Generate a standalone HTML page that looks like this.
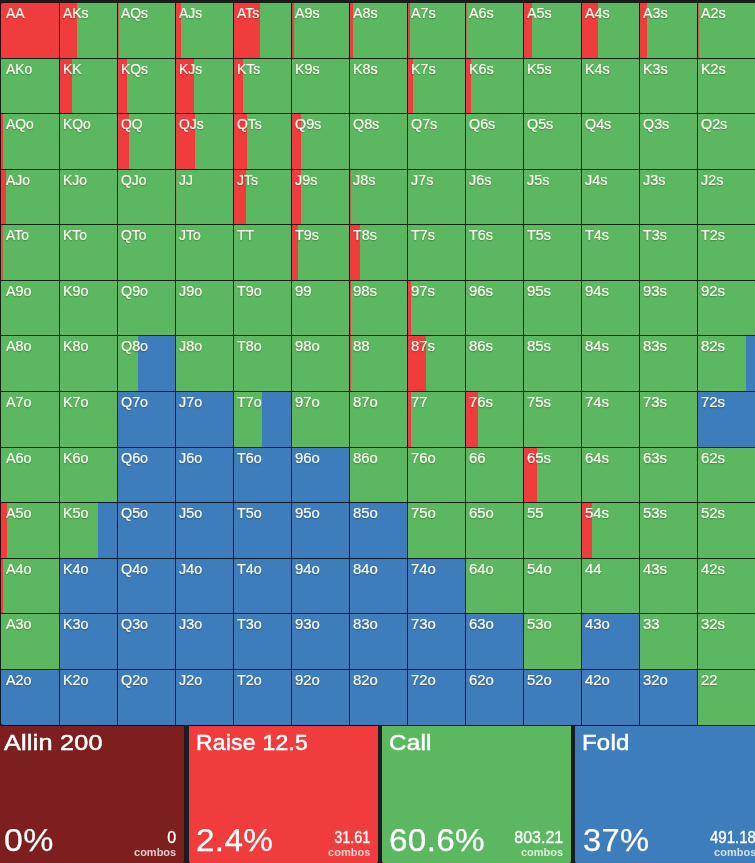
<!DOCTYPE html>
<html><head><meta charset="utf-8"><title>Range</title>
<style>
html,body{margin:0;padding:0;background:#1b1c20;}
body{width:755px;height:863px;overflow:hidden;position:relative;font-family:"Liberation Sans",sans-serif;color:#fff;}
#g{position:absolute;left:0;top:0;width:755px;height:727px;overflow:hidden;}
#gb{position:absolute;left:1.0px;top:1.97px;width:755.0px;height:723.54px;background:#0d0f0d;border-radius:3px;}
.c{position:absolute;width:58.0px;height:56.18px;box-sizing:border-box;border-left:1px solid rgba(0,0,0,.8);border-top:1px solid rgba(0,0,0,.8);background-origin:border-box;background-repeat:no-repeat;}
.c span{position:absolute;left:3.3px;-webkit-text-stroke:.2px #fdfbf0;top:3.0px;font-size:14.2px;line-height:15px;transform-origin:0 0;color:#fdfbf0;text-shadow:0 1px 1.5px rgba(0,0,0,.3);white-space:nowrap;}
.tl{border-top-left-radius:3px}
.bl{border-bottom-left-radius:3px}
.p{position:absolute;top:726px;height:138px;border-radius:0 0 4px 4px;box-sizing:border-box;}
.t{position:absolute;left:6.7px;top:4px;font-size:22px;line-height:26px;letter-spacing:.2px;white-space:nowrap;-webkit-text-stroke:.5px #fff;transform-origin:0 0;}
.pc{position:absolute;left:6.7px;bottom:5.6px;font-size:32px;line-height:36px;letter-spacing:.3px;white-space:nowrap;transform-origin:0 0;-webkit-text-stroke:.25px #fff;}
.cb{position:absolute;right:8px;bottom:5px;text-align:right;white-space:nowrap;}
.n{font-size:16px;line-height:16px;transform-origin:100% 0;-webkit-text-stroke:.35px #fff;margin-bottom:0px}
.l{font-size:11px;line-height:13px;font-weight:bold;color:rgba(255,255,255,.76);}
</style></head><body>
<div id="g"><div id="gb"></div>
<div class="c tl" style="left:0.00px;top:1.97px;width:59px;background-color:#f03c3c"><span style="transform:scaleX(0.98);left:5px">AA</span></div>
<div class="c" style="left:59.00px;top:1.97px;background-image:linear-gradient(90deg,#f03c3c 0 18.50px,#5cb860 18.50px 58.00px)"><span style="transform:scaleX(0.98)">AKs</span></div>
<div class="c" style="left:117.00px;top:1.97px;background-image:linear-gradient(90deg,#c16347 0 2.00px,#5cb860 2.00px 58.00px)"><span style="transform:scaleX(0.98)">AQs</span></div>
<div class="c" style="left:175.00px;top:1.97px;background-image:linear-gradient(90deg,#f03c3c 0 5.90px,#5cb860 5.90px 58.00px)"><span style="transform:scaleX(0.98)">AJs</span></div>
<div class="c" style="left:233.00px;top:1.97px;background-image:linear-gradient(90deg,#f03c3c 0 26.65px,#5cb860 26.65px 58.00px)"><span style="transform:scaleX(0.98)">ATs</span></div>
<div class="c" style="left:291.00px;top:1.97px;background-image:linear-gradient(90deg,#f03c3c 0 3.11px,#5cb860 3.11px 58.00px)"><span style="transform:scaleX(1.01)">A9s</span></div>
<div class="c" style="left:349.00px;top:1.97px;background-image:linear-gradient(90deg,#f03c3c 0 3.85px,#5cb860 3.85px 58.00px)"><span style="transform:scaleX(1.01)">A8s</span></div>
<div class="c" style="left:407.00px;top:1.97px;background-image:linear-gradient(90deg,#f03c3c 0 2.71px,#5cb860 2.71px 58.00px)"><span style="transform:scaleX(1.01)">A7s</span></div>
<div class="c" style="left:465.00px;top:1.97px;background-image:linear-gradient(90deg,#b0714b 0 2.00px,#5cb860 2.00px 58.00px)"><span style="transform:scaleX(1.01)">A6s</span></div>
<div class="c" style="left:523.00px;top:1.97px;background-image:linear-gradient(90deg,#f03c3c 0 8.81px,#5cb860 8.81px 58.00px)"><span style="transform:scaleX(1.01)">A5s</span></div>
<div class="c" style="left:581.00px;top:1.97px;background-image:linear-gradient(90deg,#f03c3c 0 16.68px,#5cb860 16.68px 58.00px)"><span style="transform:scaleX(1.01)">A4s</span></div>
<div class="c" style="left:639.00px;top:1.97px;background-image:linear-gradient(90deg,#f03c3c 0 8.41px,#5cb860 8.41px 58.00px)"><span style="transform:scaleX(1.01)">A3s</span></div>
<div class="c" style="left:697.00px;top:1.97px;background-image:linear-gradient(90deg,#c16347 0 2.00px,#5cb860 2.00px 58.00px)"><span style="transform:scaleX(1.01)">A2s</span></div>
<div class="c" style="left:0.00px;top:57.55px;width:59px;background-color:#5cb860"><span style="transform:scaleX(0.98);left:5px">AKo</span></div>
<div class="c" style="left:59.00px;top:57.55px;background-image:linear-gradient(90deg,#f03c3c 0 12.97px,#5cb860 12.97px 58.00px)"><span style="transform:scaleX(0.98)">KK</span></div>
<div class="c" style="left:117.00px;top:57.55px;background-image:linear-gradient(90deg,#f03c3c 0 9.55px,#5cb860 9.55px 58.00px)"><span style="transform:scaleX(0.98)">KQs</span></div>
<div class="c" style="left:175.00px;top:57.55px;background-image:linear-gradient(90deg,#f03c3c 0 18.67px,#5cb860 18.67px 58.00px)"><span style="transform:scaleX(0.98)">KJs</span></div>
<div class="c" style="left:233.00px;top:57.55px;background-image:linear-gradient(90deg,#f03c3c 0 10.12px,#5cb860 10.12px 58.00px)"><span style="transform:scaleX(0.98)">KTs</span></div>
<div class="c" style="left:291.00px;top:57.55px;background-color:#5cb860"><span style="transform:scaleX(1.01)">K9s</span></div>
<div class="c" style="left:349.00px;top:57.55px;background-color:#5cb860"><span style="transform:scaleX(1.01)">K8s</span></div>
<div class="c" style="left:407.00px;top:57.55px;background-image:linear-gradient(90deg,#f03c3c 0 5.56px,#5cb860 5.56px 58.00px)"><span style="transform:scaleX(1.01)">K7s</span></div>
<div class="c" style="left:465.00px;top:57.55px;background-image:linear-gradient(90deg,#f03c3c 0 6.30px,#5cb860 6.30px 58.00px)"><span style="transform:scaleX(1.01)">K6s</span></div>
<div class="c" style="left:523.00px;top:57.55px;background-color:#5cb860"><span style="transform:scaleX(1.01)">K5s</span></div>
<div class="c" style="left:581.00px;top:57.55px;background-color:#5cb860"><span style="transform:scaleX(1.01)">K4s</span></div>
<div class="c" style="left:639.00px;top:57.55px;background-color:#5cb860"><span style="transform:scaleX(1.01)">K3s</span></div>
<div class="c" style="left:697.00px;top:57.55px;background-color:#5cb860"><span style="transform:scaleX(1.01)">K2s</span></div>
<div class="c" style="left:0.00px;top:113.13px;width:59px;background-image:linear-gradient(90deg,#f03c3c 0 3.42px,#5cb860 3.42px 59.00px)"><span style="transform:scaleX(0.98);left:5px">AQo</span></div>
<div class="c" style="left:59.00px;top:113.13px;background-color:#5cb860"><span style="transform:scaleX(0.98)">KQo</span></div>
<div class="c" style="left:117.00px;top:113.13px;background-image:linear-gradient(90deg,#f03c3c 0 11.83px,#5cb860 11.83px 58.00px)"><span style="transform:scaleX(0.98)">QQ</span></div>
<div class="c" style="left:175.00px;top:113.13px;background-image:linear-gradient(90deg,#f03c3c 0 19.81px,#5cb860 19.81px 58.00px)"><span style="transform:scaleX(0.98)">QJs</span></div>
<div class="c" style="left:233.00px;top:113.13px;background-image:linear-gradient(90deg,#f03c3c 0 14.11px,#5cb860 14.11px 58.00px)"><span style="transform:scaleX(0.98)">QTs</span></div>
<div class="c" style="left:291.00px;top:113.13px;background-image:linear-gradient(90deg,#f03c3c 0 10.41px,#5cb860 10.41px 58.00px)"><span style="transform:scaleX(1.01)">Q9s</span></div>
<div class="c" style="left:349.00px;top:113.13px;background-color:#5cb860"><span style="transform:scaleX(1.01)">Q8s</span></div>
<div class="c" style="left:407.00px;top:113.13px;background-color:#5cb860"><span style="transform:scaleX(1.01)">Q7s</span></div>
<div class="c" style="left:465.00px;top:113.13px;background-color:#5cb860"><span style="transform:scaleX(1.01)">Q6s</span></div>
<div class="c" style="left:523.00px;top:113.13px;background-color:#5cb860"><span style="transform:scaleX(1.01)">Q5s</span></div>
<div class="c" style="left:581.00px;top:113.13px;background-color:#5cb860"><span style="transform:scaleX(1.01)">Q4s</span></div>
<div class="c" style="left:639.00px;top:113.13px;background-color:#5cb860"><span style="transform:scaleX(1.01)">Q3s</span></div>
<div class="c" style="left:697.00px;top:113.13px;background-color:#5cb860"><span style="transform:scaleX(1.01)">Q2s</span></div>
<div class="c" style="left:0.00px;top:168.71px;width:59px;background-image:linear-gradient(90deg,#f03c3c 0 5.99px,#5cb860 5.99px 59.00px)"><span style="transform:scaleX(0.98);left:5px">AJo</span></div>
<div class="c" style="left:59.00px;top:168.71px;background-color:#5cb860"><span style="transform:scaleX(0.98)">KJo</span></div>
<div class="c" style="left:117.00px;top:168.71px;background-color:#5cb860"><span style="transform:scaleX(0.98)">QJo</span></div>
<div class="c" style="left:175.00px;top:168.71px;background-image:linear-gradient(90deg,#7e9c58 0 2.00px,#5cb860 2.00px 58.00px)"><span style="transform:scaleX(0.98)">JJ</span></div>
<div class="c" style="left:233.00px;top:168.71px;background-image:linear-gradient(90deg,#f03c3c 0 12.97px,#5cb860 12.97px 58.00px)"><span style="transform:scaleX(0.98)">JTs</span></div>
<div class="c" style="left:291.00px;top:168.71px;background-image:linear-gradient(90deg,#f03c3c 0 9.83px,#5cb860 9.83px 58.00px)"><span style="transform:scaleX(1.01)">J9s</span></div>
<div class="c" style="left:349.00px;top:168.71px;background-image:linear-gradient(90deg,#c16347 0 2.00px,#5cb860 2.00px 58.00px)"><span style="transform:scaleX(1.01)">J8s</span></div>
<div class="c" style="left:407.00px;top:168.71px;background-color:#5cb860"><span style="transform:scaleX(1.01)">J7s</span></div>
<div class="c" style="left:465.00px;top:168.71px;background-color:#5cb860"><span style="transform:scaleX(1.01)">J6s</span></div>
<div class="c" style="left:523.00px;top:168.71px;background-color:#5cb860"><span style="transform:scaleX(1.01)">J5s</span></div>
<div class="c" style="left:581.00px;top:168.71px;background-color:#5cb860"><span style="transform:scaleX(1.01)">J4s</span></div>
<div class="c" style="left:639.00px;top:168.71px;background-color:#5cb860"><span style="transform:scaleX(1.01)">J3s</span></div>
<div class="c" style="left:697.00px;top:168.71px;background-color:#5cb860"><span style="transform:scaleX(1.01)">J2s</span></div>
<div class="c" style="left:0.00px;top:224.29px;width:59px;background-image:linear-gradient(90deg,#c16347 0 3.00px,#5cb860 3.00px 59.00px)"><span style="transform:scaleX(0.98);left:5px">ATo</span></div>
<div class="c" style="left:59.00px;top:224.29px;background-color:#5cb860"><span style="transform:scaleX(0.98)">KTo</span></div>
<div class="c" style="left:117.00px;top:224.29px;background-color:#5cb860"><span style="transform:scaleX(0.98)">QTo</span></div>
<div class="c" style="left:175.00px;top:224.29px;background-color:#5cb860"><span style="transform:scaleX(0.98)">JTo</span></div>
<div class="c" style="left:233.00px;top:224.29px;background-color:#5cb860"><span style="transform:scaleX(0.98)">TT</span></div>
<div class="c" style="left:291.00px;top:224.29px;background-image:linear-gradient(90deg,#f03c3c 0 6.70px,#5cb860 6.70px 58.00px)"><span style="transform:scaleX(1.01)">T9s</span></div>
<div class="c" style="left:349.00px;top:224.29px;background-image:linear-gradient(90deg,#f03c3c 0 10.52px,#5cb860 10.52px 58.00px)"><span style="transform:scaleX(1.01)">T8s</span></div>
<div class="c" style="left:407.00px;top:224.29px;background-color:#5cb860"><span style="transform:scaleX(1.01)">T7s</span></div>
<div class="c" style="left:465.00px;top:224.29px;background-color:#5cb860"><span style="transform:scaleX(1.01)">T6s</span></div>
<div class="c" style="left:523.00px;top:224.29px;background-color:#5cb860"><span style="transform:scaleX(1.01)">T5s</span></div>
<div class="c" style="left:581.00px;top:224.29px;background-color:#5cb860"><span style="transform:scaleX(1.01)">T4s</span></div>
<div class="c" style="left:639.00px;top:224.29px;background-color:#5cb860"><span style="transform:scaleX(1.01)">T3s</span></div>
<div class="c" style="left:697.00px;top:224.29px;background-color:#5cb860"><span style="transform:scaleX(1.01)">T2s</span></div>
<div class="c" style="left:0.00px;top:279.87px;width:59px;background-color:#5cb860"><span style="transform:scaleX(1.01);left:5px">A9o</span></div>
<div class="c" style="left:59.00px;top:279.87px;background-color:#5cb860"><span style="transform:scaleX(1.01)">K9o</span></div>
<div class="c" style="left:117.00px;top:279.87px;background-color:#5cb860"><span style="transform:scaleX(1.01)">Q9o</span></div>
<div class="c" style="left:175.00px;top:279.87px;background-color:#5cb860"><span style="transform:scaleX(1.01)">J9o</span></div>
<div class="c" style="left:233.00px;top:279.87px;background-color:#5cb860"><span style="transform:scaleX(1.01)">T9o</span></div>
<div class="c" style="left:291.00px;top:279.87px;background-color:#5cb860"><span style="transform:scaleX(1.05)">99</span></div>
<div class="c" style="left:349.00px;top:279.87px;background-image:linear-gradient(90deg,#f03c3c 0 2.48px,#5cb860 2.48px 58.00px)"><span style="transform:scaleX(1.05)">98s</span></div>
<div class="c" style="left:407.00px;top:279.87px;background-image:linear-gradient(90deg,#f03c3c 0 4.19px,#5cb860 4.19px 58.00px)"><span style="transform:scaleX(1.05)">97s</span></div>
<div class="c" style="left:465.00px;top:279.87px;background-color:#5cb860"><span style="transform:scaleX(1.05)">96s</span></div>
<div class="c" style="left:523.00px;top:279.87px;background-color:#5cb860"><span style="transform:scaleX(1.05)">95s</span></div>
<div class="c" style="left:581.00px;top:279.87px;background-color:#5cb860"><span style="transform:scaleX(1.05)">94s</span></div>
<div class="c" style="left:639.00px;top:279.87px;background-color:#5cb860"><span style="transform:scaleX(1.05)">93s</span></div>
<div class="c" style="left:697.00px;top:279.87px;background-color:#5cb860"><span style="transform:scaleX(1.05)">92s</span></div>
<div class="c" style="left:0.00px;top:335.45px;width:59px;background-color:#5cb860"><span style="transform:scaleX(1.01);left:5px">A8o</span></div>
<div class="c" style="left:59.00px;top:335.45px;background-color:#5cb860"><span style="transform:scaleX(1.01)">K8o</span></div>
<div class="c" style="left:117.00px;top:335.45px;background-image:linear-gradient(90deg,#5cb860 1.00px 20.84px,#3d7dbc 20.84px 100%)"><span style="transform:scaleX(1.01)">Q8o</span></div>
<div class="c" style="left:175.00px;top:335.45px;background-color:#5cb860"><span style="transform:scaleX(1.01)">J8o</span></div>
<div class="c" style="left:233.00px;top:335.45px;background-color:#5cb860"><span style="transform:scaleX(1.01)">T8o</span></div>
<div class="c" style="left:291.00px;top:335.45px;background-color:#5cb860"><span style="transform:scaleX(1.05)">98o</span></div>
<div class="c" style="left:349.00px;top:335.45px;background-image:linear-gradient(90deg,#db4e41 0 2.00px,#5cb860 2.00px 58.00px)"><span style="transform:scaleX(1.05)">88</span></div>
<div class="c" style="left:407.00px;top:335.45px;background-image:linear-gradient(90deg,#f03c3c 0 18.90px,#5cb860 18.90px 58.00px)"><span style="transform:scaleX(1.05)">87s</span></div>
<div class="c" style="left:465.00px;top:335.45px;background-color:#5cb860"><span style="transform:scaleX(1.05)">86s</span></div>
<div class="c" style="left:523.00px;top:335.45px;background-color:#5cb860"><span style="transform:scaleX(1.05)">85s</span></div>
<div class="c" style="left:581.00px;top:335.45px;background-color:#5cb860"><span style="transform:scaleX(1.05)">84s</span></div>
<div class="c" style="left:639.00px;top:335.45px;background-color:#5cb860"><span style="transform:scaleX(1.05)">83s</span></div>
<div class="c" style="left:697.00px;top:335.45px;background-image:linear-gradient(90deg,#5cb860 1.00px 49.16px,#3d7dbc 49.16px 100%)"><span style="transform:scaleX(1.05)">82s</span></div>
<div class="c" style="left:0.00px;top:391.03px;width:59px;background-color:#5cb860"><span style="transform:scaleX(1.01);left:5px">A7o</span></div>
<div class="c" style="left:59.00px;top:391.03px;background-color:#5cb860"><span style="transform:scaleX(1.01)">K7o</span></div>
<div class="c" style="left:117.00px;top:391.03px;background-color:#3d7dbc"><span style="transform:scaleX(1.01)">Q7o</span></div>
<div class="c" style="left:175.00px;top:391.03px;background-color:#3d7dbc"><span style="transform:scaleX(1.01)">J7o</span></div>
<div class="c" style="left:233.00px;top:391.03px;background-image:linear-gradient(90deg,#5cb860 1.00px 28.93px,#3d7dbc 28.93px 100%)"><span style="transform:scaleX(1.01)">T7o</span></div>
<div class="c" style="left:291.00px;top:391.03px;background-color:#5cb860"><span style="transform:scaleX(1.05)">97o</span></div>
<div class="c" style="left:349.00px;top:391.03px;background-color:#5cb860"><span style="transform:scaleX(1.05)">87o</span></div>
<div class="c" style="left:407.00px;top:391.03px;background-image:linear-gradient(90deg,#f03c3c 0 3.56px,#5cb860 3.56px 58.00px)"><span style="transform:scaleX(1.05)">77</span></div>
<div class="c" style="left:465.00px;top:391.03px;background-image:linear-gradient(90deg,#f03c3c 0 13.31px,#5cb860 13.31px 58.00px)"><span style="transform:scaleX(1.05)">76s</span></div>
<div class="c" style="left:523.00px;top:391.03px;background-color:#5cb860"><span style="transform:scaleX(1.05)">75s</span></div>
<div class="c" style="left:581.00px;top:391.03px;background-color:#5cb860"><span style="transform:scaleX(1.05)">74s</span></div>
<div class="c" style="left:639.00px;top:391.03px;background-color:#5cb860"><span style="transform:scaleX(1.05)">73s</span></div>
<div class="c" style="left:697.00px;top:391.03px;background-color:#3d7dbc"><span style="transform:scaleX(1.05)">72s</span></div>
<div class="c" style="left:0.00px;top:446.61px;width:59px;background-color:#5cb860"><span style="transform:scaleX(1.01);left:5px">A6o</span></div>
<div class="c" style="left:59.00px;top:446.61px;background-color:#5cb860"><span style="transform:scaleX(1.01)">K6o</span></div>
<div class="c" style="left:117.00px;top:446.61px;background-color:#3d7dbc"><span style="transform:scaleX(1.01)">Q6o</span></div>
<div class="c" style="left:175.00px;top:446.61px;background-color:#3d7dbc"><span style="transform:scaleX(1.01)">J6o</span></div>
<div class="c" style="left:233.00px;top:446.61px;background-color:#3d7dbc"><span style="transform:scaleX(1.01)">T6o</span></div>
<div class="c" style="left:291.00px;top:446.61px;background-color:#3d7dbc"><span style="transform:scaleX(1.05)">96o</span></div>
<div class="c" style="left:349.00px;top:446.61px;background-color:#5cb860"><span style="transform:scaleX(1.05)">86o</span></div>
<div class="c" style="left:407.00px;top:446.61px;background-color:#5cb860"><span style="transform:scaleX(1.05)">76o</span></div>
<div class="c" style="left:465.00px;top:446.61px;background-color:#5cb860"><span style="transform:scaleX(1.05)">66</span></div>
<div class="c" style="left:523.00px;top:446.61px;background-image:linear-gradient(90deg,#f03c3c 0 14.22px,#5cb860 14.22px 58.00px)"><span style="transform:scaleX(1.05)">65s</span></div>
<div class="c" style="left:581.00px;top:446.61px;background-color:#5cb860"><span style="transform:scaleX(1.05)">64s</span></div>
<div class="c" style="left:639.00px;top:446.61px;background-color:#5cb860"><span style="transform:scaleX(1.05)">63s</span></div>
<div class="c" style="left:697.00px;top:446.61px;background-color:#5cb860"><span style="transform:scaleX(1.05)">62s</span></div>
<div class="c" style="left:0.00px;top:502.19px;width:59px;background-image:linear-gradient(90deg,#f03c3c 0 7.02px,#5cb860 7.02px 59.00px)"><span style="transform:scaleX(1.01);left:5px">A5o</span></div>
<div class="c" style="left:59.00px;top:502.19px;background-image:linear-gradient(90deg,#5cb860 1.00px 39.48px,#3d7dbc 39.48px 100%)"><span style="transform:scaleX(1.01)">K5o</span></div>
<div class="c" style="left:117.00px;top:502.19px;background-color:#3d7dbc"><span style="transform:scaleX(1.01)">Q5o</span></div>
<div class="c" style="left:175.00px;top:502.19px;background-color:#3d7dbc"><span style="transform:scaleX(1.01)">J5o</span></div>
<div class="c" style="left:233.00px;top:502.19px;background-color:#3d7dbc"><span style="transform:scaleX(1.01)">T5o</span></div>
<div class="c" style="left:291.00px;top:502.19px;background-color:#3d7dbc"><span style="transform:scaleX(1.05)">95o</span></div>
<div class="c" style="left:349.00px;top:502.19px;background-color:#3d7dbc"><span style="transform:scaleX(1.05)">85o</span></div>
<div class="c" style="left:407.00px;top:502.19px;background-color:#5cb860"><span style="transform:scaleX(1.05)">75o</span></div>
<div class="c" style="left:465.00px;top:502.19px;background-color:#5cb860"><span style="transform:scaleX(1.05)">65o</span></div>
<div class="c" style="left:523.00px;top:502.19px;background-color:#5cb860"><span style="transform:scaleX(1.05)">55</span></div>
<div class="c" style="left:581.00px;top:502.19px;background-image:linear-gradient(90deg,#f03c3c 0 10.58px,#5cb860 10.58px 58.00px)"><span style="transform:scaleX(1.05)">54s</span></div>
<div class="c" style="left:639.00px;top:502.19px;background-color:#5cb860"><span style="transform:scaleX(1.05)">53s</span></div>
<div class="c" style="left:697.00px;top:502.19px;background-color:#5cb860"><span style="transform:scaleX(1.05)">52s</span></div>
<div class="c" style="left:0.00px;top:557.77px;width:59px;background-image:linear-gradient(90deg,#f03c3c 0 3.14px,#5cb860 3.14px 59.00px)"><span style="transform:scaleX(1.01);left:5px">A4o</span></div>
<div class="c" style="left:59.00px;top:557.77px;background-color:#3d7dbc"><span style="transform:scaleX(1.01)">K4o</span></div>
<div class="c" style="left:117.00px;top:557.77px;background-color:#3d7dbc"><span style="transform:scaleX(1.01)">Q4o</span></div>
<div class="c" style="left:175.00px;top:557.77px;background-color:#3d7dbc"><span style="transform:scaleX(1.01)">J4o</span></div>
<div class="c" style="left:233.00px;top:557.77px;background-color:#3d7dbc"><span style="transform:scaleX(1.01)">T4o</span></div>
<div class="c" style="left:291.00px;top:557.77px;background-color:#3d7dbc"><span style="transform:scaleX(1.05)">94o</span></div>
<div class="c" style="left:349.00px;top:557.77px;background-color:#3d7dbc"><span style="transform:scaleX(1.05)">84o</span></div>
<div class="c" style="left:407.00px;top:557.77px;background-color:#3d7dbc"><span style="transform:scaleX(1.05)">74o</span></div>
<div class="c" style="left:465.00px;top:557.77px;background-color:#5cb860"><span style="transform:scaleX(1.05)">64o</span></div>
<div class="c" style="left:523.00px;top:557.77px;background-color:#5cb860"><span style="transform:scaleX(1.05)">54o</span></div>
<div class="c" style="left:581.00px;top:557.77px;background-color:#5cb860"><span style="transform:scaleX(1.05)">44</span></div>
<div class="c" style="left:639.00px;top:557.77px;background-color:#5cb860"><span style="transform:scaleX(1.05)">43s</span></div>
<div class="c" style="left:697.00px;top:557.77px;background-color:#5cb860"><span style="transform:scaleX(1.05)">42s</span></div>
<div class="c" style="left:0.00px;top:613.35px;width:59px;background-color:#5cb860"><span style="transform:scaleX(1.01);left:5px">A3o</span></div>
<div class="c" style="left:59.00px;top:613.35px;background-color:#3d7dbc"><span style="transform:scaleX(1.01)">K3o</span></div>
<div class="c" style="left:117.00px;top:613.35px;background-color:#3d7dbc"><span style="transform:scaleX(1.01)">Q3o</span></div>
<div class="c" style="left:175.00px;top:613.35px;background-color:#3d7dbc"><span style="transform:scaleX(1.01)">J3o</span></div>
<div class="c" style="left:233.00px;top:613.35px;background-color:#3d7dbc"><span style="transform:scaleX(1.01)">T3o</span></div>
<div class="c" style="left:291.00px;top:613.35px;background-color:#3d7dbc"><span style="transform:scaleX(1.05)">93o</span></div>
<div class="c" style="left:349.00px;top:613.35px;background-color:#3d7dbc"><span style="transform:scaleX(1.05)">83o</span></div>
<div class="c" style="left:407.00px;top:613.35px;background-color:#3d7dbc"><span style="transform:scaleX(1.05)">73o</span></div>
<div class="c" style="left:465.00px;top:613.35px;background-color:#3d7dbc"><span style="transform:scaleX(1.05)">63o</span></div>
<div class="c" style="left:523.00px;top:613.35px;background-color:#5cb860"><span style="transform:scaleX(1.05)">53o</span></div>
<div class="c" style="left:581.00px;top:613.35px;background-color:#3d7dbc"><span style="transform:scaleX(1.05)">43o</span></div>
<div class="c" style="left:639.00px;top:613.35px;background-color:#5cb860"><span style="transform:scaleX(1.05)">33</span></div>
<div class="c" style="left:697.00px;top:613.35px;background-color:#5cb860"><span style="transform:scaleX(1.05)">32s</span></div>
<div class="c bl" style="left:0.00px;top:668.93px;width:59px;background-color:#3d7dbc"><span style="transform:scaleX(1.01);left:5px">A2o</span></div>
<div class="c" style="left:59.00px;top:668.93px;background-color:#3d7dbc"><span style="transform:scaleX(1.01)">K2o</span></div>
<div class="c" style="left:117.00px;top:668.93px;background-color:#3d7dbc"><span style="transform:scaleX(1.01)">Q2o</span></div>
<div class="c" style="left:175.00px;top:668.93px;background-color:#3d7dbc"><span style="transform:scaleX(1.01)">J2o</span></div>
<div class="c" style="left:233.00px;top:668.93px;background-color:#3d7dbc"><span style="transform:scaleX(1.01)">T2o</span></div>
<div class="c" style="left:291.00px;top:668.93px;background-color:#3d7dbc"><span style="transform:scaleX(1.05)">92o</span></div>
<div class="c" style="left:349.00px;top:668.93px;background-color:#3d7dbc"><span style="transform:scaleX(1.05)">82o</span></div>
<div class="c" style="left:407.00px;top:668.93px;background-color:#3d7dbc"><span style="transform:scaleX(1.05)">72o</span></div>
<div class="c" style="left:465.00px;top:668.93px;background-color:#3d7dbc"><span style="transform:scaleX(1.05)">62o</span></div>
<div class="c" style="left:523.00px;top:668.93px;background-color:#3d7dbc"><span style="transform:scaleX(1.05)">52o</span></div>
<div class="c" style="left:581.00px;top:668.93px;background-color:#3d7dbc"><span style="transform:scaleX(1.05)">42o</span></div>
<div class="c" style="left:639.00px;top:668.93px;background-color:#3d7dbc"><span style="transform:scaleX(1.05)">32o</span></div>
<div class="c" style="left:697.00px;top:668.93px;background-color:#5cb860"><span style="transform:scaleX(1.05)">22</span></div>
</div>
<div class="p" style="left:-2.7px;width:186.9px;background:#7d1f1f"><div class="t" style="transform:scaleX(1.145)">Allin 200</div><div class="pc" style="transform:scaleX(1.06)">0%</div><div class="cb"><div class="n" style="transform:scaleX(1.0)">0</div><div class="l">combos</div></div></div>
<div class="p" style="left:188.9px;width:189.4px;background:#f03c3c"><div class="t" style="transform:scaleX(1.045)">Raise 12.5</div><div class="pc" style="transform:scaleX(1.04)">2.4%</div><div class="cb"><div class="n" style="transform:scaleX(0.9)">31.61</div><div class="l">combos</div></div></div>
<div class="p" style="left:381.9px;width:189.3px;background:#5cb860"><div class="t" style="transform:scaleX(1.1)">Call</div><div class="pc" style="transform:scaleX(1.04)">60.6%</div><div class="cb"><div class="n" style="transform:scaleX(1.0)">803.21</div><div class="l">combos</div></div></div>
<div class="p" style="left:575.0px;width:189.3px;background:#3d7dbc"><div class="t" style="transform:scaleX(1.09)">Fold</div><div class="pc" style="transform:scaleX(1.02);margin-left:1.4px">37%</div><div class="cb"><div class="n" style="transform:scaleX(0.94)">491.18</div><div class="l">combos</div></div></div>
</body></html>
